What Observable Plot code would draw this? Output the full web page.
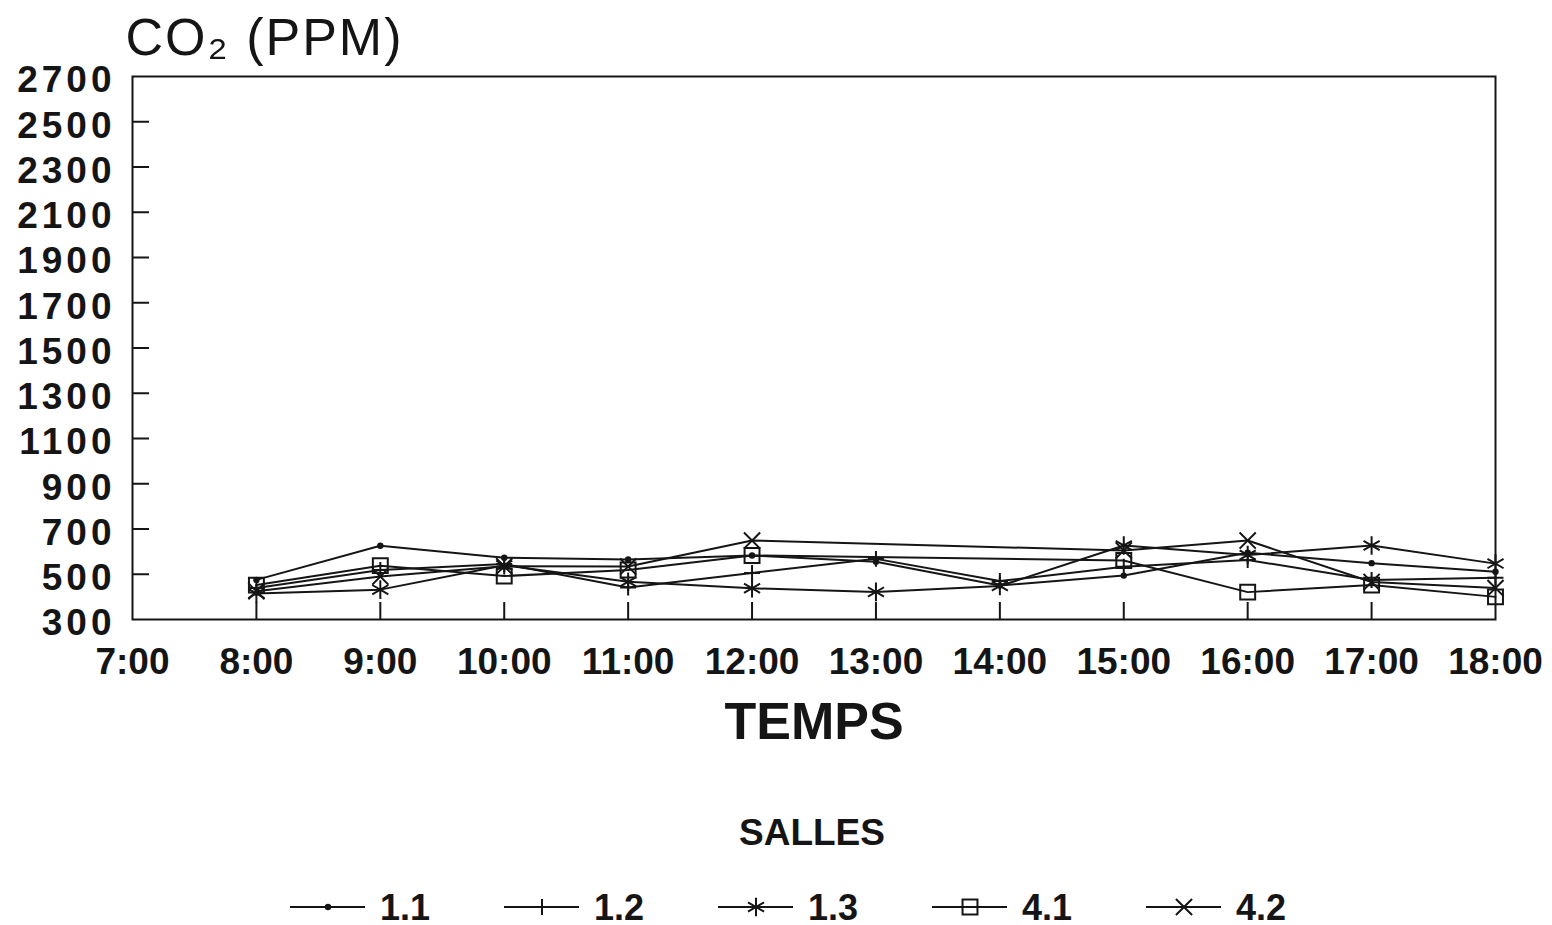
<!DOCTYPE html>
<html>
<head>
<meta charset="utf-8">
<script src="https://cdn.jsdelivr.net/npm/d3@7"></script>
<script src="https://cdn.jsdelivr.net/npm/@observablehq/plot@0.6"></script>
<style>
  html, body { margin: 0; padding: 0; background: #fff; }
  #wrap { position: relative; width: 1552px; height: 925px; font-family: "Liberation Sans", Arial, sans-serif; color: #151515; }
  #wrap svg { display: block; }
  g[aria-label="y-axis tick label"] text { letter-spacing: 4px; }
  #legend { position: absolute; left: 0; top: 760px; overflow: visible; }
</style>
</head>
<body>
<div id="wrap"></div>
<script>
// ---- data ----
const hours = [8, 9, 10, 11, 12, 13, 14, 15, 16, 17, 18];
const salle11 = [475, 626, 573, 565, 583, 555, 450, 494, 595, 549, 511];
const salle12 = [439, 519, 545, 441, 506, 568, 470, 533, 563, 475, 484];
const salle13 = [415, 432, 540, 467, 438, 422, 448, 627, 585, 627, 547];
const salle41 = [452, 538, 492, 519, 583, null, null, 561, 421, 452, 400];
const salle42 = [425, 490, 535, 534, 649, null, null, 605, 649, 466, 439];
const salleNames = ["1.1", "1.2", "1.3", "4.1", "4.2"];
const yTicks = [300, 500, 700, 900, 1100, 1300, 1500, 1700, 1900, 2100, 2300, 2500, 2700];
const xTicks = [7, 8, 9, 10, 11, 12, 13, 14, 15, 16, 17, 18];
const xTickLabels = ["7:00", "8:00", "9:00", "10:00", "11:00", "12:00", "13:00", "14:00", "15:00", "16:00", "17:00", "18:00"];

const seriesValues = [salle11, salle12, salle13, salle41, salle42];
const rows = [];
salleNames.forEach((name, k) => {
  hours.forEach((h, i) => {
    const v = seriesValues[k][i];
    if (v != null) rows.push({salle: name, hour: h, co2: v});
  });
});

// marker styles per series
const markerStyle = {
  "1.1": {symbol: "circle", r: 3.2, fill: "#151515", stroke: "none"},
  "1.2": {symbol: "plus", r: 5.2, fill: "none", stroke: "#151515"},
  "1.3": {symbol: "asterisk", r: 8.8, fill: "none", stroke: "#151515"},
  "4.1": {symbol: "square2", r: 9.5, fill: "none", stroke: "#151515"},
  "4.2": {symbol: "times", r: 7.4, fill: "none", stroke: "#151515"}
};

const W = 1552, H = 760;
const mL = 132, mR = 57, mT = 76, mB = 141;
const innerW = W - mL - mR, innerH = H - mT - mB;
const ink = "#151515";

const marks = [
  Plot.frame({stroke: ink, strokeWidth: 2}),
  Plot.tickY(yTicks.slice(1, -1), {y: d => d, insetRight: innerW - 17, stroke: ink, strokeWidth: 2}),
  Plot.tickX(xTicks.slice(1, -1), {x: d => d, insetTop: innerH - 17, stroke: ink, strokeWidth: 2}),
  Plot.axisY(yTicks, {tickSize: 0, tickPadding: 17, fontSize: 37, fontWeight: "bold", dy: 4, label: null, fill: ink,
    tickFormat: d => String(d)}),
  Plot.axisX(xTicks, {tickSize: 0, tickPadding: 28, fontSize: 37, fontWeight: "bold", label: null, fill: ink,
    tickFormat: d => xTickLabels[xTicks.indexOf(d)]}),
  Plot.line(rows, {x: "hour", y: "co2", z: "salle", stroke: ink, strokeWidth: 2}),
  ...salleNames.map(name => {
    const s = markerStyle[name];
    return Plot.dot(rows.filter(d => d.salle === name), {
      x: "hour", y: "co2", symbol: s.symbol, r: s.r, fill: s.fill, stroke: s.stroke, strokeWidth: 2
    });
  }),
  Plot.text(["CO₂ (PPM)"], {frameAnchor: "top-left", lineAnchor: "middle", textAnchor: "start", dx: -7, dy: -38,
    fontSize: 52, fill: ink, style: "letter-spacing: 2px"}),
  Plot.text(["TEMPS"], {frameAnchor: "bottom", lineAnchor: "middle", dy: 103, fontSize: 52, fontWeight: "bold", fill: ink})
];

const chart = Plot.plot({
  width: W, height: H,
  marginLeft: mL, marginRight: mR, marginTop: mT, marginBottom: mB,
  style: {fontFamily: "'Liberation Sans', Arial, sans-serif", background: "#fff", color: ink, overflow: "visible"},
  x: {type: "linear", domain: [xTicks[0], xTicks[xTicks.length - 1]]},
  y: {type: "linear", domain: [yTicks[0], yTicks[yTicks.length - 1]]},
  marks
});
document.getElementById("wrap").appendChild(chart);
// letter-spacing for the title text
d3.select(chart).selectAll("text").filter(function () { return this.textContent === "CO₂ (PPM)"; })
  .style("letter-spacing", "2px");

// ---- legend (SALLES) ----
const symMap = {circle: d3.symbolCircle, plus: d3.symbolPlus, asterisk: d3.symbolAsterisk, square2: d3.symbolSquare2, times: d3.symbolTimes};
const leg = d3.select("#wrap").append("svg")
  .attr("id", "legend").attr("width", W).attr("height", 165)
  .style("font-family", "'Liberation Sans', Arial, sans-serif");
leg.append("text").attr("x", 812).attr("y", 84.5).attr("text-anchor", "middle")
  .attr("font-size", 37).attr("font-weight", "bold").attr("fill", ink).text("SALLES");
salleNames.forEach((name, i) => {
  const x0 = 290 + i * 214, y0 = 147;
  const g = leg.append("g");
  g.append("line").attr("x1", x0).attr("x2", x0 + 75).attr("y1", y0).attr("y2", y0)
    .attr("stroke", ink).attr("stroke-width", 2);
  const s = markerStyle[name];
  g.append("path").attr("transform", `translate(${x0 + 38},${y0})`)
    .attr("d", d3.symbol(symMap[s.symbol], Math.PI * s.r * s.r)())
    .attr("fill", s.fill).attr("stroke", s.stroke === "none" ? null : s.stroke).attr("stroke-width", 2);
  g.append("text").attr("x", x0 + 90).attr("y", y0 + 13).attr("font-size", 36).attr("font-weight", "bold")
    .attr("fill", ink).text(name);
});
</script>
</body>
</html>
